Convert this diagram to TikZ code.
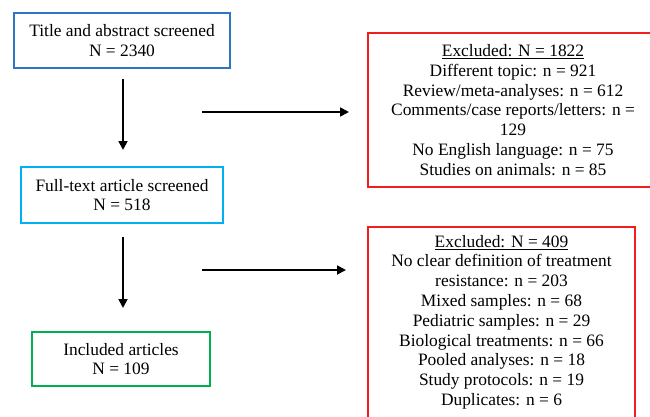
\documentclass[tikz,border=0pt]{standalone}
\usepackage{fontspec}
\setmainfont{Liberation Serif}
\usetikzlibrary{arrows.meta}
\definecolor{titleblue}{HTML}{2E75C4}
\definecolor{fullblue}{HTML}{00B0F0}
\definecolor{inclgreen}{HTML}{00B050}
\definecolor{exclred}{HTML}{F01E1E}

\begin{document}
\begin{tikzpicture}[x=1pt,y=-1pt,line width=.5pt,
  box/.style={draw,line width=2pt,align=center,inner sep=0pt,font=\fontsize{17.4}{19.8}\selectfont},
  flow/.style={line width=1.8pt,-{Triangle[length=9pt,width=9pt]}}]
\useasboundingbox (0,0) rectangle (650,417);
\clip (0,0) rectangle (650,417);
% left column
\node[box,draw=titleblue,minimum width=216,minimum height=55] (title) at (122,40.5) {Title and abstract screened\\N = 2340};
\node[box,draw=fullblue,minimum width=202,minimum height=56] (full) at (122,195) {Full-text article screened\\N = 518};
\node[box,draw=inclgreen,minimum width=178,minimum height=54] (incl) at (121,359) {Included articles\\N = 109};
% exclusions
\node[box,draw=exclred,minimum width=290,minimum height=154] (excl1) at (513,110) {\underline{Excluded: N = 1822}\\Different topic: n = 921\\Review/meta-analyses: n = 612\\Comments/case reports/letters: n =\\129\\No English language: n = 75\\Studies on animals: n = 85};
\node[box,draw=exclred,anchor=north,minimum width=267,inner ysep=8pt,text depth=20pt] (excl2) at (501.5,226) {\underline{Excluded: N = 409}\\No clear definition of treatment\\resistance: n = 203\\Mixed samples: n = 68\\Pediatric samples: n = 29\\Biological treatments: n = 66\\Pooled analyses: n = 18\\Study protocols: n = 19\\Duplicates: n = 6};
% arrows
\draw[flow,shorten <=10pt,shorten >=16pt] ([xshift=1pt]title.south) -- ([xshift=1pt]title.south |- full.north);
\draw[flow,shorten <=13pt,shorten >=23pt] ([xshift=1pt]full.south) -- ([xshift=1pt]full.south |- incl.north);
\coordinate (from1) at (202,112);
\coordinate (from2) at (202,270);
\draw[flow,shorten >=18pt] (from1) -- (from1 -| excl1.west);
\draw[flow,shorten >=21pt] (from2) -- (from2 -| excl2.west);
\end{tikzpicture}
\end{document}
